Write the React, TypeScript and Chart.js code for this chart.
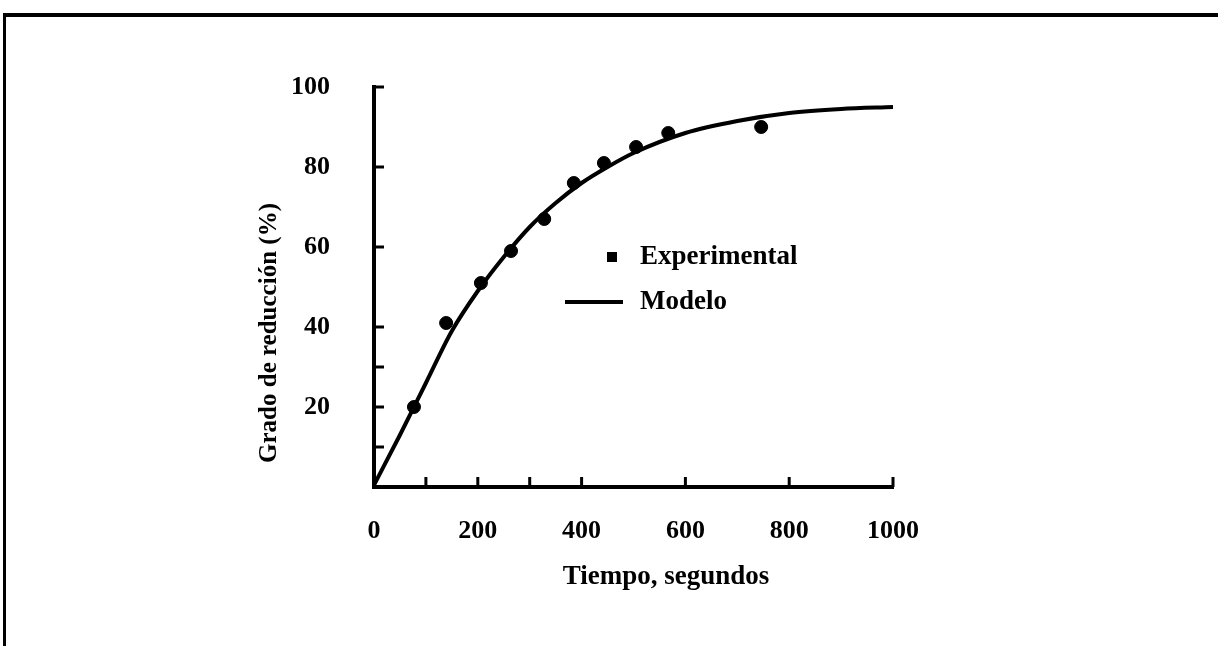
import React, { useEffect, useRef } from "react";
import { Chart, registerables } from "chart.js";

Chart.register(...registerables);

// ---- Data ----
const expTime = [77, 139, 206, 264, 328, 385, 443, 505, 567, 746];
const expGrado = [20, 41, 51, 59, 67, 76, 81, 85, 88.5, 90];

const modelTime = [0, 50, 100, 150, 200, 250, 300, 350, 400, 450, 500, 600, 700, 800, 900, 1000];
const modelGrado = [0.5, 13, 26, 39, 49, 57.5, 65, 71, 76, 80, 83.5, 88.5, 91.5, 93.5, 94.5, 95];

const xTickStep = 200;
const yTickStep = 20;
const xMarkValues = [100, 200, 300, 400, 600, 800, 1000];
const yMarkValues = [10, 20, 30, 40, 60, 80, 100];

const seriesNames = ["Experimental", "Modelo"];
const xTitle = "Tiempo, segundos";
const yTitle = "Grado de reducción (%)";

const FONT = "'Liberation Serif', 'DejaVu Serif', serif";

export default function App() {
  const canvasRef = useRef<HTMLCanvasElement | null>(null);

  useEffect(() => {
    const canvas = canvasRef.current;
    if (!canvas) return;

    const innerTicks = {
      id: "innerTicks",
      afterDatasetsDraw(chart: any) {
        const { ctx, chartArea, scales } = chart;
        const x = scales.x;
        const y = scales.y;
        ctx.save();
        ctx.strokeStyle = "#000";
        ctx.lineWidth = 3;
        xMarkValues.forEach((v) => {
          const px = x.getPixelForValue(v);
          ctx.beginPath();
          ctx.moveTo(px, chartArea.bottom);
          ctx.lineTo(px, chartArea.bottom - 10);
          ctx.stroke();
        });
        yMarkValues.forEach((v) => {
          const py = y.getPixelForValue(v);
          ctx.beginPath();
          ctx.moveTo(chartArea.left, py);
          ctx.lineTo(chartArea.left + 10, py);
          ctx.stroke();
        });
        ctx.restore();
      },
    };

    const annotations = {
      id: "annotations",
      afterDraw(chart: any) {
        const { ctx, chartArea } = chart;
        const textX = chartArea.left + 266;
        const y1 = chartArea.top + 170;
        const y2 = chartArea.top + 215;
        ctx.save();
        ctx.fillStyle = "#000";
        ctx.strokeStyle = "#000";
        // legend marker
        ctx.fillRect(textX - 33, y1 - 5, 10, 10);
        // legend line
        ctx.lineWidth = 4;
        ctx.beginPath();
        ctx.moveTo(textX - 75, y2);
        ctx.lineTo(textX - 17, y2);
        ctx.stroke();
        ctx.font = `bold 27px ${FONT}`;
        ctx.textAlign = "left";
        ctx.textBaseline = "middle";
        ctx.fillText(seriesNames[0], textX, y1);
        ctx.fillText(seriesNames[1], textX, y2);
        // x axis title
        ctx.textAlign = "center";
        ctx.font = `bold 27px ${FONT}`;
        ctx.fillText(xTitle, chartArea.left + 292, chartArea.bottom + 90);
        // y axis title
        ctx.translate(chartArea.left - 104, chartArea.top + 246);
        ctx.rotate(-Math.PI / 2);
        ctx.font = `bold 25px ${FONT}`;
        ctx.fillText(yTitle, 0, 0);
        ctx.restore();
      },
    };

    const tickFont = { family: FONT, size: 26, weight: "bold" as const };

    const chart = new Chart(canvas, {
      type: "scatter",
      data: {
        datasets: [
          {
            label: seriesNames[1],
            data: modelTime.map((t, i) => ({ x: t, y: modelGrado[i] })),
            showLine: true,
            pointRadius: 0,
            borderColor: "#000",
            backgroundColor: "#000",
            borderWidth: 4,
            cubicInterpolationMode: "monotone",
          },
          {
            label: seriesNames[0],
            data: expTime.map((t, i) => ({ x: t, y: expGrado[i] })),
            showLine: false,
            pointRadius: 6.5,
            pointStyle: "circle",
            borderColor: "#000",
            backgroundColor: "#000",
          },
        ],
      },
      options: {
        responsive: false,
        animation: false,
        layout: { padding: { left: 239, right: 325, top: 87, bottom: 0 } },
        plugins: {
          legend: { display: false },
          tooltip: { enabled: false },
        },
        scales: {
          x: {
            type: "linear",
            min: 0,
            max: 1000,
            grid: { display: false },
            border: { display: true, color: "#000", width: 4 },
            ticks: {
              stepSize: xTickStep,
              color: "#000",
              font: tickFont,
              padding: 21,
              callback: (v: any) => String(v),
            },
            afterFit: (s: any) => {
              s.height = 159;
            },
          },
          y: {
            type: "linear",
            min: 0,
            max: 100,
            grid: { display: false },
            border: { display: true, color: "#000", width: 4 },
            ticks: {
              stepSize: yTickStep,
              color: "#000",
              font: tickFont,
              padding: 36,
              callback: (v: any) => (v === 0 ? "" : String(v)),
            },
            afterFit: (s: any) => {
              s.width = 135;
            },
          },
        },
      },
      plugins: [innerTicks, annotations],
    });

    return () => chart.destroy();
  }, []);

  return (
    <div style={{ position: "fixed", left: 0, top: 0, width: 1218, height: 646, background: "#fff" }}>
      <div
        style={{
          position: "absolute",
          left: 3,
          top: 13,
          width: 1300,
          height: 700,
          borderTop: "4px solid #000",
          borderLeft: "3px solid #000",
        }}
      />
      <canvas
        ref={canvasRef}
        width={1218}
        height={646}
        style={{ position: "absolute", left: 0, top: 0, width: 1218, height: 646 }}
      />
    </div>
  );
}
